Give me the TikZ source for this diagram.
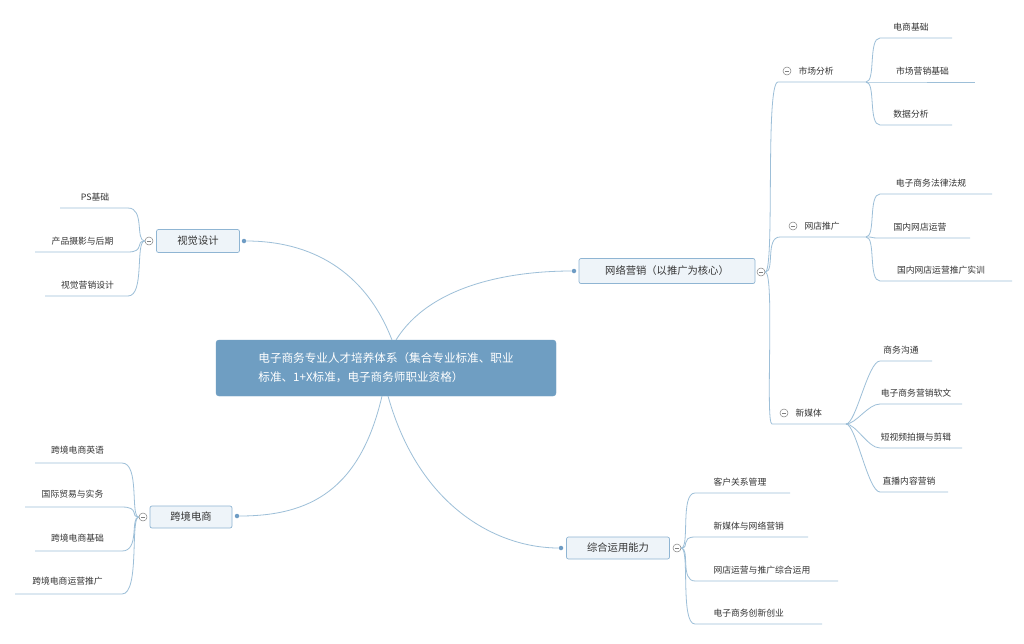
\documentclass[tikz,border=0pt]{standalone}
\usepackage{fontspec}
\setmainfont{Noto Sans CJK SC}
\begin{document}
\begin{tikzpicture}[x=1pt,y=-1pt,
  ln/.style={draw=lineblue,line width=0.8pt},
  main/.style={draw=boxedge,fill=boxfill,rounded corners=2pt,line width=0.7pt,font=\fontsize{10.3}{12}\selectfont,text=black!80,inner sep=0pt},
  leaf/.style={font=\fontsize{8.8}{10}\selectfont,text=black!80},
  col/.style={circle,draw=gray,fill=white,inner sep=0pt,minimum size=8pt,line width=0.5pt,path picture={\draw[gray,line width=0.5pt] ([xshift=-2pt]path picture bounding box.center)--([xshift=2pt]path picture bounding box.center);}},
  dot/.style={circle,fill=dotblue,inner sep=0pt,minimum size=4.5pt}]
\definecolor{lineblue}{HTML}{9DBFD8}
\definecolor{boxedge}{HTML}{8FB5D3}
\definecolor{boxfill}{HTML}{EEF4F9}
\definecolor{dotblue}{HTML}{6E9CC4}
\definecolor{centfill}{HTML}{6F9EC2}
\useasboundingbox[fill=white] (0,0) rectangle (1024,643);
% central
\node[fill=centfill,draw=centfill,rounded corners=3pt,minimum width=340pt,minimum height=56pt,text=white,font=\fontsize{11.6}{19}\selectfont,align=left] (c) at (386,368) {电子商务专业人才培养体系（集合专业标准、职业\\标准、1+X标准，电子商务师职业资格）};
% main topics
\node[main,minimum width=83pt,minimum height=23pt] (v) at (198,241) {视觉设计};
\node[main,minimum width=176pt,minimum height=25pt] (w) at (667,271) {网络营销（以推广为核心）};
\node[main,minimum width=82pt,minimum height=22pt] (k) at (191,517) {跨境电商};
\node[main,minimum width=103pt,minimum height=22pt] (z) at (618,548) {综合运用能力};
\node[dot] (vd) at (244,241) {};
\node[dot] (wd) at (574,271) {};
\node[dot] (kd) at (237,516) {};
\node[dot] (zd) at (561,548) {};
\coordinate (c1) at (392,340);
\coordinate (c2) at (396,340);
\coordinate (c3) at (382,396);
\coordinate (c4) at (388,396);
\draw[ln] (c1) .. controls (365,270) and (310,241) .. (vd);
\draw[ln] (c2) .. controls (430,285) and (510,271) .. (wd);
\draw[ln] (c3) .. controls (360,490) and (310,516) .. (kd);
\draw[ln] (c4) .. controls (420,510) and (500,548) .. (zd);
% right subtopics of 网络营销
\node[col] (wc) at (761,272) {};
\foreach \n/\ci/\tx/\y/\xa/\xb in {s1/787/{市场分析}/71/778/866, s2/793/{网店推广}/226/780/866, s3/784/{新媒体}/413/772/846}{
  \node[col] (\n c) at (\ci,\y) {};
  \node[leaf,anchor=west] (\n) at (\ci+8,\y) {\tx};
  \coordinate (\n a) at (\xa,\y+11);
  \coordinate (\n b) at (\xb,\y+11);
  \draw[ln] (wc.east) .. controls (775,272) and (765,\y+11) .. (\n a) -- (\n b);
}
\foreach \p/\tx/\y/\xe in {s1/{电商基础}/27/952, s1/{市场营销基础}/71/975, s1/{数据分析}/114/952,
  s2/{电子商务法律法规}/183/992, s2/{国内网店运营}/227/970, s2/{国内网店运营推广实训}/270/1012,
  s3/{商务沟通}/350/932, s3/{电子商务营销软文}/393/962, s3/{短视频拍摄与剪辑}/437/962, s3/{直播内容营销}/481/948}{
  \node[leaf] at ({(\xe+870)/2},\y) {\tx};
  \coordinate (e) at (\xe,\y+11);
  \draw[ln] (\p b) .. controls ([xshift=10]\p b) and (868,\y+11) .. (880,\y+11) -- (e);
}
% 综合 children
\node[col] (zc) at (677,548) {};
\foreach \tx/\y/\xe in {{客户关系管理}/482/790, {新媒体与网络营销}/526/808, {网店运营与推广综合运用}/570/838, {电子商务创新创业}/613/822}{
  \node[leaf,anchor=west] at (710,\y) {\tx};
  \coordinate (e) at (\xe,\y+11);
  \draw[ln] (zc.east) .. controls (690,548) and (680,\y+11) .. (695,\y+11) -- (e);
}
% 视觉 children
\node[col] (vc) at (149,241) {};
\foreach \tx/\y/\xs in {{PS基础}/197/60, {产品摄影与后期}/241/35, {视觉营销设计}/285/45}{
  \node[leaf] at ({(\xs+130)/2},\y) {\tx};
  \coordinate (e) at (\xs,\y+11);
  \draw[ln] (vc.west) .. controls (135,241) and (145,\y+11) .. (128,\y+11) -- (e);
}
% 跨境 children
\node[col] (kc) at (143,517) {};
\foreach \tx/\y/\xs in {{跨境电商英语}/450/35, {国际贸易与实务}/494/25, {跨境电商基础}/538/35, {跨境电商运营推广}/581/15}{
  \node[leaf] at ({(\xs+120)/2},\y) {\tx};
  \coordinate (e) at (\xs,\y+13);
  \draw[ln] (kc.west) .. controls (130,517) and (140,\y+13) .. (122,\y+13) -- (e);
}
\end{tikzpicture}
\end{document}
